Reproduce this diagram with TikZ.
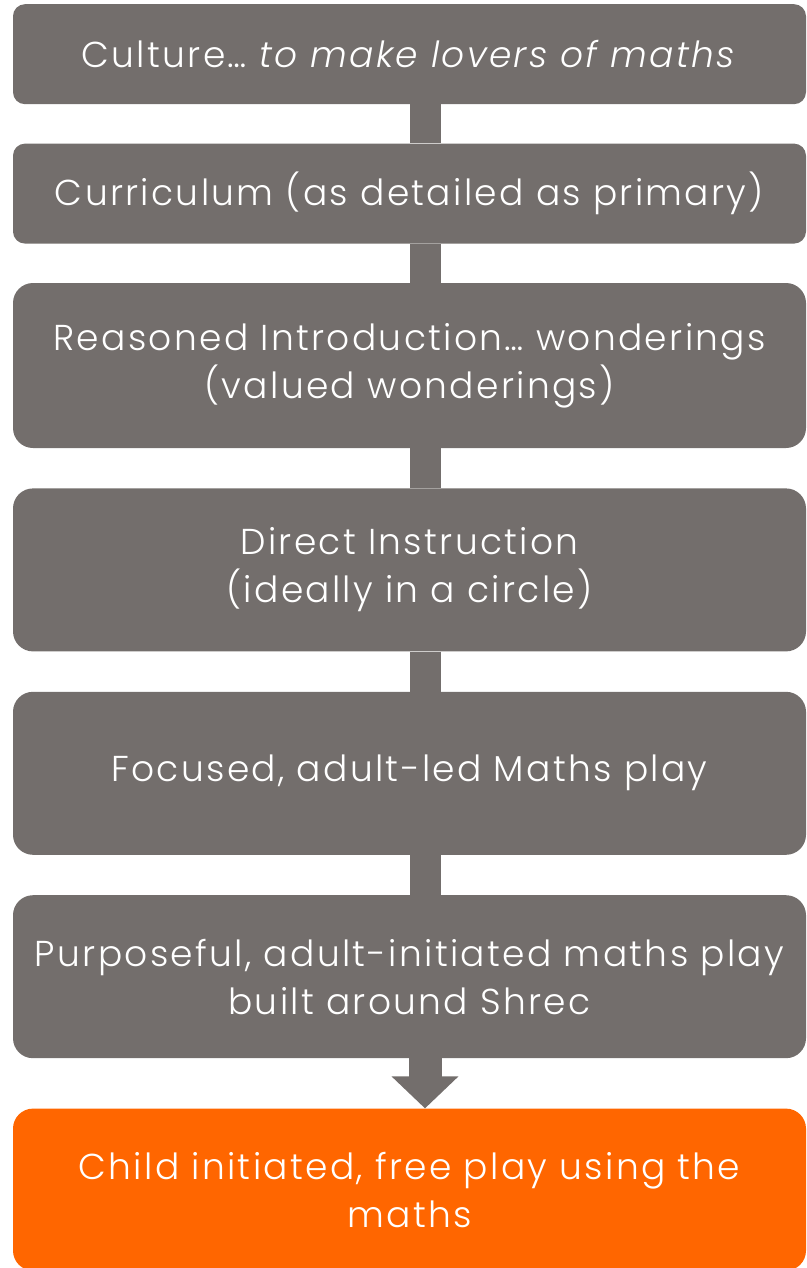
\documentclass[tikz,border=0pt]{standalone}
\usepackage{fontspec}
\setmainfont{Poppins}[UprightFont={* Light}, ItalicFont={* Light Italic}, LetterSpace=6.5]
\usepackage{xcolor}
\usetikzlibrary{arrows.meta, positioning}

\definecolor{stepgray}{HTML}{736E6C}
\definecolor{steporange}{HTML}{FF6600}

\begin{document}
\begin{tikzpicture}[auto, node distance=39pt, >=Stealth]
		
		% Define styles
		\tikzstyle{stage} = [rectangle, fill=stepgray, text=white, align=center, inner sep=0pt, minimum width=793pt, font=\fontsize{36}{48}\selectfont]
		\tikzstyle{goal} = [stage, fill=steporange, rounded corners=20pt, minimum height=162pt]
		\tikzstyle{link} = [draw=stepgray, line width=31pt]
		
		\useasboundingbox (0,0) rectangle (806pt,-1268pt);
		
		% Nodes
		\node[stage, anchor=north, rounded corners=12pt, minimum height=100pt] (culture) at (409.5pt,-4pt) {Culture\dots\ \textit{to make lovers of maths}};
		\node[stage, below=of culture, rounded corners=12pt, minimum height=100pt] (curric) {Curriculum (as detailed as primary)};
		\node[stage, below=of curric, rounded corners=20pt, minimum height=165pt] (reason) {Reasoned Introduction\dots\ wonderings\\(valued wonderings)};
		\node[stage, below=40pt of reason, rounded corners=20pt, minimum height=163pt] (direct) {Direct Instruction\\(ideally in a circle)};
		\node[stage, below=40pt of direct, rounded corners=20pt, minimum height=163pt] (focused) {Focused, adult-led Maths play};
		\node[stage, below=40pt of focused, rounded corners=20pt, minimum height=163pt] (purpose) {Purposeful, adult-initiated maths play\\built around Shrec};
		\node[goal, below=50pt of purpose] (child) {Child initiated, free play using the\\maths};
		
		% Arrows
		\draw[link] ([xshift=15.5pt]culture.south) -- ([xshift=15.5pt]curric.north);
		\draw[link] ([xshift=15.5pt]curric.south) -- ([xshift=15.5pt]reason.north);
		\draw[link] ([xshift=15.5pt]reason.south) -- ([xshift=15.5pt]direct.north);
		\draw[link] ([xshift=15.5pt]direct.south) -- ([xshift=15.5pt]focused.north);
		\draw[link] ([xshift=15.5pt]focused.south) -- ([xshift=15.5pt]purpose.north);
		\draw[link, line width=33pt, -{Triangle[width=65pt, length=32pt]}] ([xshift=15.5pt]purpose.south) -- ([xshift=15.5pt]child.north);
		
	\end{tikzpicture}
\end{document}
